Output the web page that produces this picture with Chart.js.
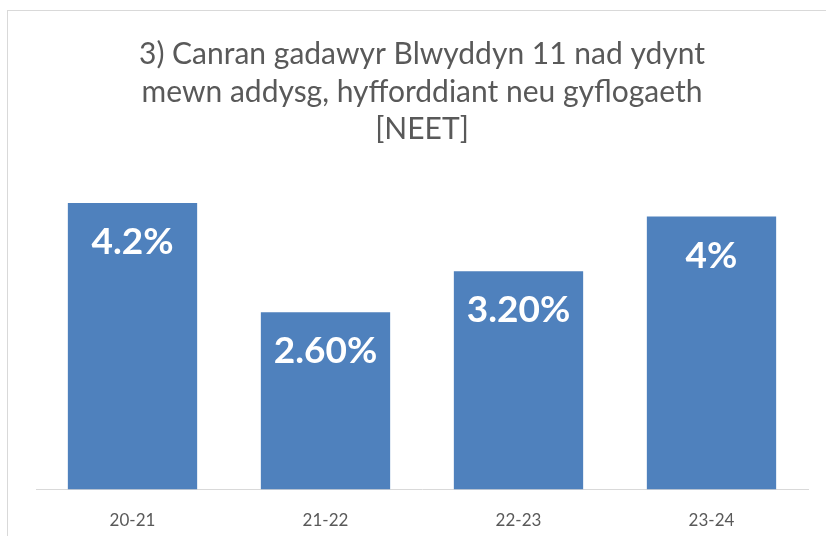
<!DOCTYPE html>
<html>
<head>
<meta charset="utf-8">
<script src="https://cdn.jsdelivr.net/npm/chart.js@4/dist/chart.umd.min.js"></script>
<style>
  html, body { margin: 0; padding: 0; background: #fff; }
  #wrap { width: 826px; height: 536px; }
</style>
</head>
<body>
<div id="wrap"><canvas id="neet-chart"></canvas></div>
<script>
var years = ['20-21', '21-22', '22-23', '23-24'];
var neetValues = [4.2, 2.6, 3.2, 4.0];
var valueLabels = ['4.2%', '2.60%', '3.20%', '4%'];
var titleLines = ['3) Canran gadawyr Blwyddyn 11 nad ydynt', 'mewn addysg, hyfforddiant neu gyflogaeth', '[NEET]'];

// grey frame round the chart, like the spreadsheet export
var frame = {
  id: 'frame',
  beforeDraw: function (chart) {
    var ctx = chart.ctx;
    ctx.save();
    ctx.strokeStyle = '#d9d9d9';
    ctx.lineWidth = 1;
    ctx.strokeRect(7.5, 10.5, 900, 600);
    ctx.restore();
  }
};

// white value labels inside the top of each bar
var barLabels = {
  id: 'barLabels',
  afterDatasetsDraw: function (chart) {
    var ctx = chart.ctx;
    var bars = chart.getDatasetMeta(0).data;
    ctx.save();
    ctx.fillStyle = '#ffffff';
    ctx.font = 'bold 37px Lato';
    ctx.textAlign = 'center';
    ctx.textBaseline = 'middle';
    bars.forEach(function (bar, i) {
      ctx.fillText(valueLabels[i], bar.x, bar.y + 39);
    });
    ctx.restore();
  }
};

var neetChart = new Chart(document.getElementById('neet-chart'), {
  type: 'bar',
  data: {
    labels: years,
    datasets: [{
      data: neetValues,
      backgroundColor: '#4f81bd',
      borderWidth: 0,
      categoryPercentage: 1,
      barPercentage: 0.67
    }]
  },
  options: {
    responsive: true,
    maintainAspectRatio: false,
    animation: false,
    layout: { padding: { left: 36, right: 18, top: 0, bottom: -16 } },
    scales: {
      x: {
        grid: { display: false, drawTicks: false },
        border: { display: true, color: '#d9d9d9', width: 1 },
        ticks: { color: '#595959', font: { family: 'Lato', size: 17 }, padding: 21 }
      },
      y: {
        display: false,
        min: 0,
        max: 4.5
      }
    },
    plugins: {
      legend: { display: false },
      tooltip: { enabled: false },
      title: {
        display: true,
        text: titleLines,
        color: '#595959',
        font: { family: 'Lato', size: 30, weight: 'normal', lineHeight: 1.25 },
        padding: { top: 36, bottom: 34 }
      }
    }
  },
  plugins: [frame, barLabels]
});
</script>
</body>
</html>
